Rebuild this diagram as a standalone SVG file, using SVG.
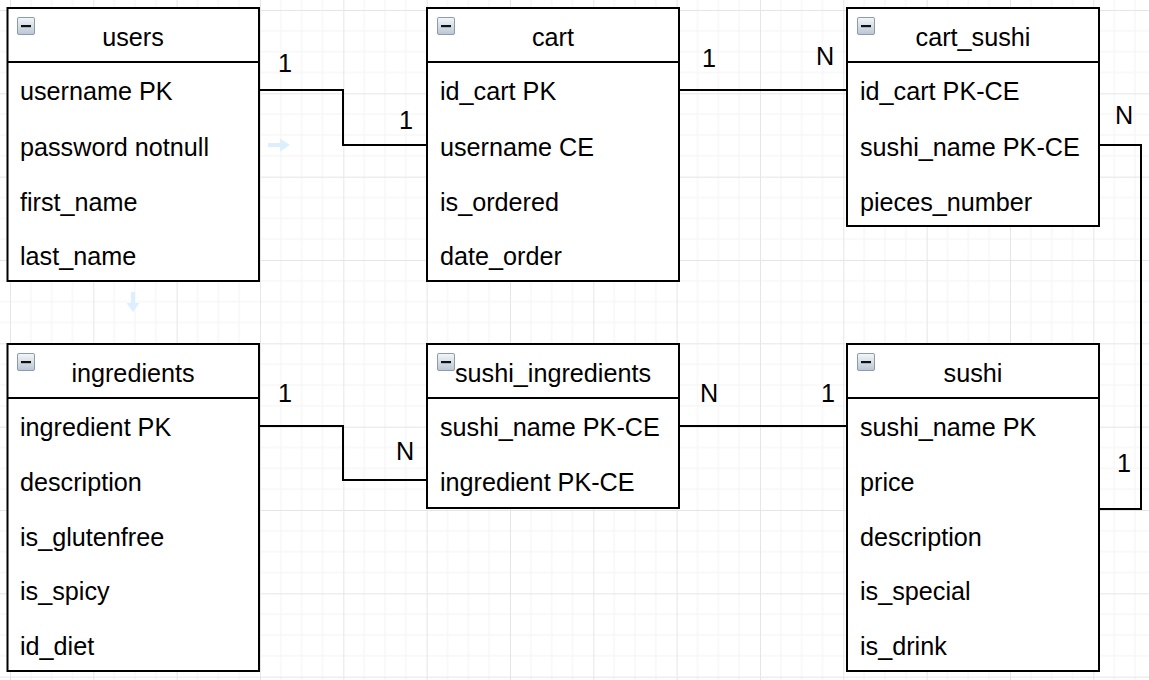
<svg xmlns="http://www.w3.org/2000/svg" width="1149" height="680" viewBox="0 0 1149 680">
<defs>
<pattern id="grid" patternUnits="userSpaceOnUse" x="10" y="10" width="83.333" height="83.333">
<path d="M20.833 0V83.333M41.667 0V83.333M62.5 0V83.333M0 20.833H83.333M0 41.667H83.333M0 62.5H83.333" stroke="#f4f4f4" stroke-width="1" fill="none"/>
<path d="M0.5 0V83.333M0 0.5H83.333" stroke="#e5e5e5" stroke-width="1" fill="none"/>
</pattern>
<linearGradient id="icon" x1="0" y1="0" x2="0" y2="1">
<stop offset="0" stop-color="#f4f7fa"/>
<stop offset="1" stop-color="#b9c6d3"/>
</linearGradient>
<g id="minus">
<rect x="0.5" y="0.5" width="17" height="17" rx="1.5" fill="url(#icon)" stroke="#8d9cab" stroke-width="1"/>
<rect x="4" y="8" width="10" height="2.2" fill="#111"/>
</g>
</defs>
<style>
.box{fill:#fff;stroke:#000;stroke-width:2}
.sep{stroke:#000;stroke-width:2}
.t{font-family:"Liberation Sans",Arial,sans-serif;font-size:25.2px;fill:#000}
.h{text-anchor:middle}
.lbl{font-family:"Liberation Sans",Arial,sans-serif;font-size:25.2px;fill:#000;text-anchor:middle}
.edge{fill:none;stroke:#000;stroke-width:2}
.hint{fill:#dcefff}
</style>
<rect width="1149" height="680" fill="#fff"/>
<rect width="1149" height="680" fill="url(#grid)"/>

<g id="users">
<rect class="box" x="7.5" y="8" width="251.5" height="273"/>
<line class="sep" x1="7.5" y1="62" x2="259" y2="62"/>
<use href="#minus" x="17" y="17"/>
<text class="t h" x="133" y="46">users</text>
<text class="t" x="20" y="100">username PK</text>
<text class="t" x="20" y="156">password notnull</text>
<text class="t" x="20" y="211">first_name</text>
<text class="t" x="20" y="265">last_name</text>
</g>

<g id="cart">
<rect class="box" x="427" y="8" width="252" height="273"/>
<line class="sep" x1="427" y1="62" x2="679" y2="62"/>
<use href="#minus" x="437" y="17"/>
<text class="t h" x="553" y="46">cart</text>
<text class="t" x="440" y="100">id_cart PK</text>
<text class="t" x="440" y="156">username CE</text>
<text class="t" x="440" y="211">is_ordered</text>
<text class="t" x="440" y="265">date_order</text>
</g>

<g id="cart_sushi">
<rect class="box" x="847" y="8" width="252" height="218"/>
<line class="sep" x1="847" y1="62" x2="1099" y2="62"/>
<use href="#minus" x="857" y="17"/>
<text class="t h" x="973" y="46">cart_sushi</text>
<text class="t" x="860" y="100">id_cart PK-CE</text>
<text class="t" x="860" y="156">sushi_name PK-CE</text>
<text class="t" x="860" y="211">pieces_number</text>
</g>

<g id="ingredients">
<rect class="box" x="7.5" y="344" width="251.5" height="327"/>
<line class="sep" x1="7.5" y1="398" x2="259" y2="398"/>
<use href="#minus" x="17" y="353"/>
<text class="t h" x="133" y="382">ingredients</text>
<text class="t" x="20" y="436">ingredient PK</text>
<text class="t" x="20" y="491">description</text>
<text class="t" x="20" y="546">is_glutenfree</text>
<text class="t" x="20" y="600">is_spicy</text>
<text class="t" x="20" y="655">id_diet</text>
</g>

<g id="sushi_ingredients">
<rect class="box" x="427" y="344" width="252" height="164"/>
<line class="sep" x1="427" y1="398" x2="679" y2="398"/>
<use href="#minus" x="437" y="353"/>
<text class="t h" x="553" y="382">sushi_ingredients</text>
<text class="t" x="440" y="436">sushi_name PK-CE</text>
<text class="t" x="440" y="491">ingredient PK-CE</text>
</g>

<g id="sushi">
<rect class="box" x="847" y="344" width="252" height="327"/>
<line class="sep" x1="847" y1="398" x2="1099" y2="398"/>
<use href="#minus" x="857" y="353"/>
<text class="t h" x="973" y="382">sushi</text>
<text class="t" x="860" y="436">sushi_name PK</text>
<text class="t" x="860" y="491">price</text>
<text class="t" x="860" y="546">description</text>
<text class="t" x="860" y="600">is_special</text>
<text class="t" x="860" y="655">is_drink</text>
</g>

<g id="connectors">
<path class="edge" d="M259 90H343V145H427"/>
<path class="edge" d="M679 90H847"/>
<path class="edge" d="M1099 145H1141V509H1099"/>
<path class="edge" d="M259 426H343V480H427"/>
<path class="edge" d="M679 426H847"/>
<text class="lbl" x="285" y="72">1</text>
<text class="lbl" x="406" y="129">1</text>
<text class="lbl" x="709" y="67">1</text>
<text class="lbl" x="825" y="65">N</text>
<text class="lbl" x="1124" y="124">N</text>
<text class="lbl" x="1124" y="472">1</text>
<text class="lbl" x="285" y="402">1</text>
<text class="lbl" x="405" y="460">N</text>
<text class="lbl" x="709" y="402">N</text>
<text class="lbl" x="828" y="402">1</text>
</g>

<g id="hints">
<path class="hint" d="M268 143H280V138.5L290 145L280 151.5V147H268Z"/>
<path class="hint" d="M131 292V303H126.5L133 312L139.5 303H135V292Z"/>
</g>
</svg>
